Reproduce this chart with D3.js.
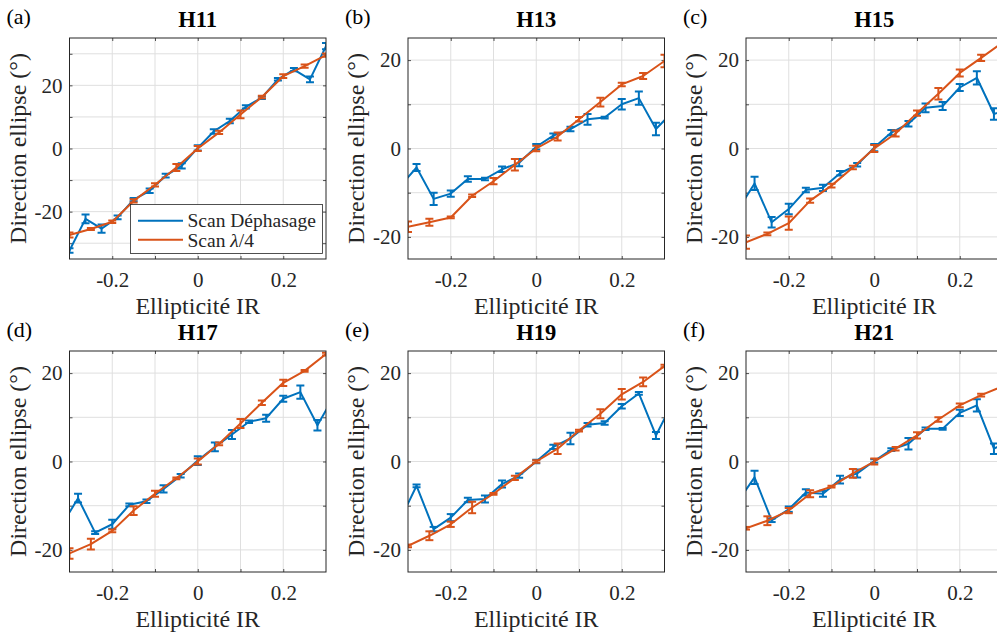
<!DOCTYPE html>
<html><head><meta charset="utf-8">
<script src="https://cdn.jsdelivr.net/npm/d3@7"></script>
<style>body{margin:0;background:#fff;overflow:hidden} svg{display:block}</style>
</head><body><svg id="c" width="997" height="632"></svg>
<script>
// ---------- data ----------
const panelLabels = ["(a)", "(b)", "(c)", "(d)", "(e)", "(f)"];
const titles = ["H11", "H13", "H15", "H17", "H19", "H21"];
const xLabel = "Ellipticité IR";
const yLabel = "Direction ellipse (°)";
const legendLabels = ["Scan Déphasage", "Scan λ/4"];
const xTickLabels = [-0.2, 0, 0.2];
const xTickMarks = [-0.2, -0.1, 0, 0.1, 0.2];
const yTickLabels = [-20, 0, 20];
const yTickMarksA = [-30, -20, -10, 0, 10, 20, 30];
const yTickMarks = [-20, -10, 0, 10, 20];
const xDomain = [-0.3, 0.3];
const yDomainA = [-35, 35];
const yDomain = [-25, 25];

// ellipticity values
const xBlueH11 = [-0.3, -0.2625, -0.225, -0.1875, -0.15, -0.1125, -0.075, -0.0375, 0, 0.0375, 0.075, 0.1125, 0.15, 0.1875, 0.225, 0.2625, 0.3];
const xBlue = [-0.32, -0.28, -0.24, -0.2, -0.16, -0.12, -0.08, -0.04, 0, 0.04, 0.08, 0.12, 0.16, 0.2, 0.24, 0.28, 0.32];
const xOrange = [-0.3, -0.25, -0.2, -0.15, -0.1, -0.05, 0, 0.05, 0.1, 0.15, 0.2, 0.25, 0.3];

// H11
const blueH11 = [-32.3, -22.3, -25.4, -21.8, -16.2, -13.4, -8.6, -5.5, 0.2, 5.4, 8.7, 13.2, 16.1, 21.9, 25.0, 21.9, 32.4];
const blueErrH11 = [0.7, 1.4, 1.3, 0.6, 0.5, 0.7, 0.6, 0.8, 0.8, 0.7, 0.7, 0.5, 0.4, 0.4, 0.5, 0.9, 1.0];
const orangeH11 = [-27.4, -25.5, -23.2, -16.6, -11.5, -6.0, 0, 5.1, 10.8, 16.3, 22.9, 26.1, 29.6];
const orangeErrH11 = [0.8, 0.3, 0.4, 0.5, 0.5, 1.1, 0.8, 0.5, 1.2, 0.4, 0.6, 0.5, 0.5];
// H13
const blueH13 = [-8.7, -4.3, -11.4, -10.2, -6.9, -6.9, -4.7, -3.2, 0.4, 2.9, 4.4, 6.6, 7.0, 10.0, 11.4, 4.4, 8.4];
const blueErrH13 = [1.0, 0.8, 1.4, 0.7, 0.6, 0.3, 0.6, 0.8, 0.6, 0.5, 0.5, 1.2, 0.2, 1.2, 1.5, 1.4, 1.0];
const orangeH13 = [-17.7, -16.7, -15.6, -10.7, -7.4, -3.7, 0, 2.7, 6.6, 10.5, 14.5, 16.4, 19.8];
const orangeErrH13 = [1.2, 0.8, 0.2, 0.3, 0.7, 1.3, 0.6, 0.9, 0.5, 1.0, 0.4, 0.7, 1.4];
// H15
const blueH15 = [-14.1, -7.9, -16.7, -13.7, -9.4, -8.9, -5.6, -3.7, 0.2, 3.6, 5.6, 9.2, 9.6, 13.8, 16.0, 7.8, 9.0];
const blueErrH15 = [1.0, 1.5, 1.2, 1.2, 0.5, 0.7, 0.5, 0.4, 0.8, 0.6, 0.6, 1.0, 0.9, 0.8, 1.5, 1.3, 1.0];
const orangeH15 = [-21.2, -19.3, -16.9, -11.8, -8.4, -4.3, 0, 3.4, 8.0, 12.4, 17.1, 20.5, 24.0];
const orangeErrH15 = [1.5, 0.3, 1.5, 0.5, 0.4, 0.4, 0.8, 0.7, 0.6, 1.3, 0.8, 0.7, 0.8];
// H17
const blueH17 = [-14.7, -8.3, -16.1, -14.2, -9.8, -9.0, -6.2, -3.2, 0.2, 3.3, 6.1, 9.0, 9.8, 14.2, 15.7, 8.2, 15.0];
const blueErrH17 = [1.0, 1.0, 0.3, 1.0, 0.3, 0.4, 0.8, 0.4, 1.0, 1.0, 1.0, 0.3, 0.8, 0.7, 1.5, 1.2, 1.0];
const orangeH17 = [-20.8, -18.7, -15.7, -11.1, -7.3, -3.8, 0, 4.0, 8.6, 13.3, 17.8, 20.5, 24.3];
const orangeErrH17 = [1.2, 1.2, 0.3, 1.0, 0.7, 0.2, 0.7, 0.3, 1.0, 0.5, 0.7, 0.2, 0.3];
// H19
const blueH19 = [-13.5, -5.5, -15.3, -12.7, -8.7, -8.5, -5.1, -3.2, 0, 3.3, 5.2, 8.3, 8.7, 12.5, 15.4, 5.9, 13.5];
const blueErrH19 = [1.0, 0.3, 0.5, 0.8, 0.5, 0.8, 0.8, 0.5, 0.4, 0.5, 1.3, 0.4, 0.4, 0.5, 0.3, 0.8, 1.0];
const orangeH19 = [-19.1, -16.8, -14.2, -10.4, -7.3, -3.7, 0, 2.9, 7.0, 10.8, 15.2, 18.0, 21.6];
const orangeErrH19 = [0.3, 1.0, 0.6, 1.3, 0.2, 0.5, 0.3, 1.2, 0.2, 1.0, 1.2, 1.0, 0.3];
// H21
const blueH21 = [-9.2, -3.6, -13.3, -10.8, -7.0, -7.3, -4.1, -2.7, 0.1, 2.7, 4.0, 7.4, 7.4, 11.0, 12.7, 2.9, 5.0];
const blueErrH21 = [1.0, 1.5, 0.4, 0.6, 0.7, 0.7, 0.9, 0.9, 0.4, 0.3, 1.3, 0.3, 0.2, 0.7, 1.4, 1.2, 1.0];
const orangeH21 = [-15.1, -13.4, -11.1, -7.3, -5.7, -2.7, 0, 2.9, 5.9, 9.5, 12.7, 15.0, 17.0];
const orangeErrH21 = [0.3, 1.0, 0.6, 0.8, 0.2, 1.0, 0.7, 0.4, 0.7, 0.5, 0.4, 0.3, 0.3];

const blueColor = "#0072BD";
const orangeColor = "#D95319";

const panels = [
  {x: xBlueH11, b: blueH11, be: blueErrH11, o: orangeH11, oe: orangeErrH11, yd: yDomainA, yt: yTickMarksA},
  {x: xBlue, b: blueH13, be: blueErrH13, o: orangeH13, oe: orangeErrH13, yd: yDomain, yt: yTickMarks},
  {x: xBlue, b: blueH15, be: blueErrH15, o: orangeH15, oe: orangeErrH15, yd: yDomain, yt: yTickMarks},
  {x: xBlue, b: blueH17, be: blueErrH17, o: orangeH17, oe: orangeErrH17, yd: yDomain, yt: yTickMarks},
  {x: xBlue, b: blueH19, be: blueErrH19, o: orangeH19, oe: orangeErrH19, yd: yDomain, yt: yTickMarks},
  {x: xBlue, b: blueH21, be: blueErrH21, o: orangeH21, oe: orangeErrH21, yd: yDomain, yt: yTickMarks}
];

// ---------- layout ----------
const lefts = [69.5, 408, 746];
const tops = [38, 351];
const W = 256.5, H = 221;
const FONT = '"Liberation Serif", "Times New Roman", Tinos, serif';
const TXT = "#262626";

const svg = d3.select("#c");
svg.append("rect").attr("width", 997).attr("height", 632).attr("fill", "#fff");

panels.forEach((p, i) => {
  const col = i % 3, row = Math.floor(i / 3);
  const L = lefts[col], T = tops[row];
  const x = d3.scaleLinear().domain(xDomain).range([0, W]);
  const y = d3.scaleLinear().domain(p.yd).range([H, 0]);
  const g = svg.append("g").attr("transform", `translate(${L},${T})`);

  const clipId = "clip" + i;
  g.append("clipPath").attr("id", clipId).append("rect")
    .attr("x", 0).attr("y", 0).attr("width", W).attr("height", H);

  // grid
  const grid = g.append("g").attr("stroke", "#dfdfdf").attr("stroke-width", 1);
  xTickMarks.forEach(v => grid.append("line").attr("x1", x(v)).attr("x2", x(v)).attr("y1", 0).attr("y2", H));
  p.yt.forEach(v => grid.append("line").attr("y1", y(v)).attr("y2", y(v)).attr("x1", 0).attr("x2", W));

  // axes (ticks inward)
  const fmtX = d => xTickLabels.includes(d) ? (d === 0 ? "0" : d3.format(".1f")(d).replace("−", "-")) : "";
  const fmtY = d => yTickLabels.includes(d) ? String(d) : "";
  const axB = g.append("g").attr("transform", `translate(0,${H})`)
    .call(d3.axisBottom(x).tickValues(xTickMarks).tickSizeInner(-3).tickSizeOuter(0).tickPadding(13.5).tickFormat(fmtX));
  const axT = g.append("g")
    .call(d3.axisTop(x).tickValues(xTickMarks).tickSizeInner(-3).tickSizeOuter(0).tickFormat(""));
  const axL = g.append("g")
    .call(d3.axisLeft(y).tickValues(p.yt).tickSizeInner(-3).tickSizeOuter(0).tickPadding(7).tickFormat(fmtY));
  const axR = g.append("g").attr("transform", `translate(${W},0)`)
    .call(d3.axisRight(y).tickValues(p.yt).tickSizeInner(-3).tickSizeOuter(0).tickFormat(""));
  [axB, axT, axL, axR].forEach(a => {
    a.attr("font-family", null).attr("font-size", null);
    a.select(".domain").remove();
    a.selectAll("line").attr("stroke", TXT).attr("stroke-width", 0.8);
    a.selectAll("text").style("font-family", FONT).style("font-size", "21px").attr("fill", TXT);
  });

  // data
  const plot = g.append("g").attr("clip-path", `url(#${clipId})`);
  const series = [
    {xs: p.x, ys: p.b, es: p.be, c: blueColor},
    {xs: xOrange, ys: p.o, es: p.oe, c: orangeColor}
  ];
  series.forEach(s => {
    const pts = s.xs.map((xv, k) => ({x: xv, y: s.ys[k], e: s.es[k]}));
    plot.append("path").datum(pts)
      .attr("d", d3.line().x(d => x(d.x)).y(d => y(d.y)))
      .attr("fill", "none").attr("stroke", s.c).attr("stroke-width", 2).attr("stroke-linejoin", "round");
    const eb = plot.append("g").attr("stroke", s.c).attr("stroke-width", 2);
    pts.forEach(d => {
      const cx = x(d.x), y1 = y(d.y - d.e), y2 = y(d.y + d.e);
      eb.append("line").attr("x1", cx).attr("x2", cx).attr("y1", y1).attr("y2", y2);
      eb.append("line").attr("x1", cx - 4).attr("x2", cx + 4).attr("y1", y1).attr("y2", y1);
      eb.append("line").attr("x1", cx - 4).attr("x2", cx + 4).attr("y1", y2).attr("y2", y2);
    });
  });

  // box
  g.append("rect").attr("x", 0).attr("y", 0).attr("width", W).attr("height", H)
    .attr("fill", "none").attr("stroke", TXT).attr("stroke-width", 1);

  // title & panel label
  g.append("text").attr("x", W / 2).attr("y", -11).attr("text-anchor", "middle")
    .style("font-family", FONT).style("font-size", "22.5px").style("font-weight", "bold").attr("fill", "#000")
    .text(titles[i]);
  g.append("text").attr("x", -63).attr("y", -14)
    .style("font-family", FONT).style("font-size", "22px").attr("fill", "#000")
    .text(panelLabels[i]);

  // axis labels
  g.append("text").attr("x", W / 2).attr("y", H + 55).attr("text-anchor", "middle")
    .style("font-family", FONT).style("font-size", "24px").attr("fill", TXT).text(xLabel);
  g.append("text").attr("transform", `translate(-52,${H / 2}) rotate(-90)`)
    .attr("text-anchor", "middle").attr("dominant-baseline", "central")
    .style("font-family", FONT).style("font-size", "24px").attr("fill", TXT).text(yLabel);

  // legend in panel (a)
  if (i === 0) {
    const lg = svg.append("g");
    lg.append("rect").attr("x", 130.5).attr("y", 204.5).attr("width", 192).attr("height", 49)
      .attr("fill", "#fff").attr("stroke", TXT).attr("stroke-width", 0.8);
    const rows = [{c: blueColor, y: 220.7}, {c: orangeColor, y: 239.7}];
    rows.forEach((r, k) => {
      lg.append("line").attr("x1", 138).attr("x2", 183).attr("y1", r.y).attr("y2", r.y)
        .attr("stroke", r.c).attr("stroke-width", 2);
      const t = lg.append("text").attr("x", 187.5).attr("y", r.y).attr("dominant-baseline", "central")
        .style("font-family", FONT).style("font-size", "19.5px").attr("fill", TXT);
      if (k === 0) t.text(legendLabels[0]);
      else {
        const parts = legendLabels[1].split("λ");
        t.append("tspan").text(parts[0]);
        t.append("tspan").style("font-style", "italic").text("λ");
        t.append("tspan").text(parts[1]);
      }
    });
  }
});
</script>
</body></html>
